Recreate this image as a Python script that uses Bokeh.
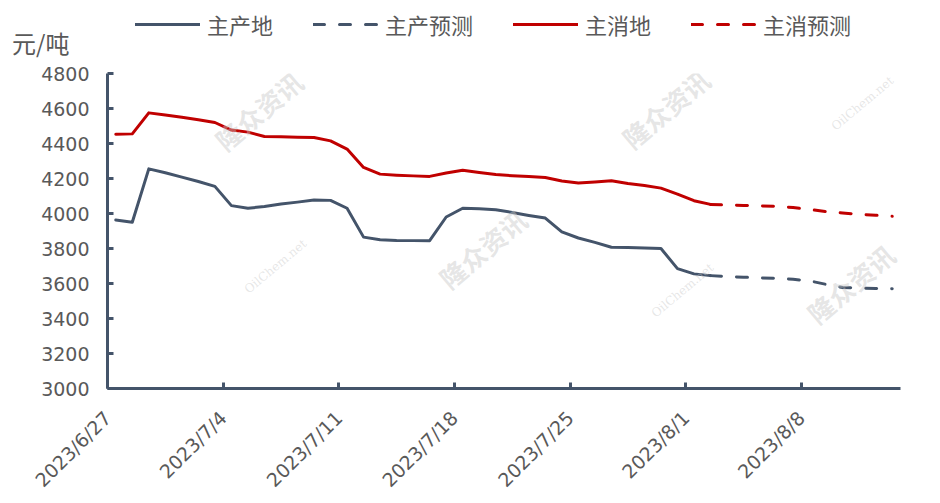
import pandas as pd
from bokeh.plotting import figure
from bokeh.layouts import column
from bokeh.models import FixedTicker, Legend, LegendItem, Label, Range1d, LinearAxis
from bokeh.embed import file_html
from bokeh.resources import INLINE

# ---------------- data ----------------
start_date = "2023-06-27"
actual_dates = list(pd.date_range("2023-06-27", "2023-08-02", freq="D"))
forecast_dates = list(pd.date_range("2023-08-02", "2023-08-13", freq="D"))

prod_actual = [3963, 3950, 4255, 4233, 4208, 4183, 4155, 4045, 4030, 4040,
               4054, 4065, 4077, 4075, 4030, 3865, 3850, 3846, 3845, 3845,
               3980, 4030, 4027, 4022, 4006, 3989, 3974, 3895, 3860, 3835,
               3807, 3806, 3803, 3800, 3685, 3655, 3645]
cons_actual = [4453, 4455, 4575, 4563, 4550, 4536, 4520, 4477, 4465, 4440,
               4438, 4436, 4434, 4415, 4368, 4263, 4225, 4219, 4215, 4212,
               4231, 4247, 4234, 4223, 4216, 4211, 4206, 4186, 4174, 4180,
               4187, 4171, 4160, 4145, 4111, 4073, 4052]
prod_forecast = [3645, 3640, 3636, 3632, 3630, 3624, 3615, 3595, 3577, 3574, 3572, 3570]
cons_forecast = [4052, 4048, 4046, 4043, 4041, 4034, 4023, 4011, 4003, 3995, 3990, 3984]

tick_dates = ["2023-06-27", "2023-07-04", "2023-07-11", "2023-07-18",
              "2023-07-25", "2023-08-01", "2023-08-08"]
tick_labels = ["2023/6/27", "2023/7/4", "2023/7/11", "2023/7/18",
               "2023/7/25", "2023/8/1", "2023/8/8"]
series_names = ["主产地", "主产预测", "主消地", "主消预测"]
y_unit = "元/吨"

# ---------------- helpers ----------------
t0 = pd.Timestamp(start_date)
def day_pos(dates):
    # Excel-style date axis: points sit in the middle of their day
    return [(pd.Timestamp(d) - t0).days + 0.5 for d in dates]

xa = day_pos(actual_dates)
xf = day_pos(forecast_dates)
tick_pos = [(pd.Timestamp(d) - t0).days for d in tick_dates]

BLUE = "#44546A"
RED = "#C00000"
GREY = "#595959"
WM = "#C8C8C8"
CJK = "Noto Sans CJK SC"
W = 932
TOP_H = 62
FL = 107          # frame left edge (page px), shared by both stacked figures
FB = 390          # frame bottom (page px)
MAIN_BOTTOM = 111
MAIN_H = FB - TOP_H + MAIN_BOTTOM

styles = [dict(line_color=BLUE, line_width=3, line_cap="round"),
          dict(line_color=BLUE, line_width=3, line_dash="11 15", line_cap="round"),
          dict(line_color=RED, line_width=3, line_cap="round"),
          dict(line_color=RED, line_width=3, line_dash="11 15", line_cap="round")]
series_x = [xa, xf, xa, xf]
series_y = [prod_actual, prod_forecast, cons_actual, cons_forecast]

def watermark(fig, x, y, big):
    fig.add_layout(Label(x=x, y=y, x_units="screen", y_units="screen",
                         text="隆众资讯" if big else "OilChem.net",
                         angle=40, angle_units="deg",
                         text_align="center", text_baseline="middle",
                         text_font=CJK if big else "DejaVu Serif",
                         text_font_style="bold" if big else "normal",
                         text_font_size="26px" if big else "12px",
                         text_color=WM, text_alpha=0.45, level="annotation"))

# ---------------- header figure: unit + legend ----------------
top = figure(width=W, height=TOP_H, output_backend="svg", toolbar_location=None,
             x_range=Range1d(0, 48), y_range=Range1d(0, TOP_H),
             x_axis_type=None, y_axis_type=None,
             min_border_left=FL, min_border_right=32, min_border_top=0, min_border_bottom=0)
top.outline_line_color = None
top.background_fill_color = "white"
top.border_fill_color = "white"

# same series in the header (outside its visible range) just to feed the legend glyphs
legend_renderers = [top.line(sx, sy, **s) for sx, sy, s in zip(series_x, series_y, styles)]

unit_axis = LinearAxis(ticker=FixedTicker(ticks=[TOP_H - 47]),
                       major_label_overrides={TOP_H - 47: y_unit},
                       axis_line_color=None, major_tick_line_color=None,
                       minor_tick_line_color=None, major_tick_in=0, major_tick_out=0,
                       major_label_standoff=38, major_label_text_font=CJK,
                       major_label_text_font_size="24px", major_label_text_color=GREY)
top.add_layout(unit_axis, "left")

legend = Legend(items=[LegendItem(label=n, renderers=[r])
                       for n, r in zip(series_names, legend_renderers)],
                orientation="horizontal", location=(135 - FL, TOP_H - 40), spacing=40,
                glyph_width=65, glyph_height=20, label_standoff=7, padding=0,
                margin=0, border_line_alpha=0, background_fill_alpha=0,
                label_text_font=CJK, label_text_font_size="22px",
                label_text_color=GREY)
top.add_layout(legend)

# ---------------- main chart ----------------
p = figure(width=W, height=MAIN_H, output_backend="svg", toolbar_location=None,
           x_range=Range1d(0, 48), y_range=Range1d(3000, 4800),
           min_border_left=FL, min_border_right=32, min_border_top=73 - TOP_H,
           min_border_bottom=MAIN_BOTTOM)
p.outline_line_color = None
p.xgrid.grid_line_color = None
p.ygrid.grid_line_color = None
p.background_fill_color = "white"
p.border_fill_color = "white"

for (px, py) in [(258, 112), (482, 250), (665, 110), (850, 285)]:
    watermark(p, px - FL, FB - py, True)
for (px, py) in [(275, 268), (682, 292), (862, 105)]:
    watermark(p, px - FL, FB - py, False)

for sx, sy, s in zip(series_x, series_y, styles):
    p.line(sx, sy, line_join="round", **s)

for ax in (p.xaxis[0], p.yaxis[0]):
    ax.axis_line_color = BLUE
    ax.axis_line_width = 3
    ax.major_tick_line_color = BLUE
    ax.major_tick_line_width = 3
    ax.major_tick_in = 6
    ax.major_tick_out = 0
    ax.minor_tick_line_color = None
    ax.major_label_text_color = GREY
    ax.major_label_text_font = "DejaVu Sans"
    ax.major_label_text_font_size = "19px"

p.yaxis.ticker = FixedTicker(ticks=list(range(3000, 4801, 200)))
p.yaxis.major_label_standoff = 18
p.xaxis.ticker = FixedTicker(ticks=tick_pos)
p.xaxis.major_label_overrides = {t: lab for t, lab in zip(tick_pos, tick_labels)}
p.xaxis.major_label_orientation = 0.7854
p.xaxis.major_label_standoff = 26

layout = column(top, p)
open("out.html", "w").write(file_html(layout, INLINE))
